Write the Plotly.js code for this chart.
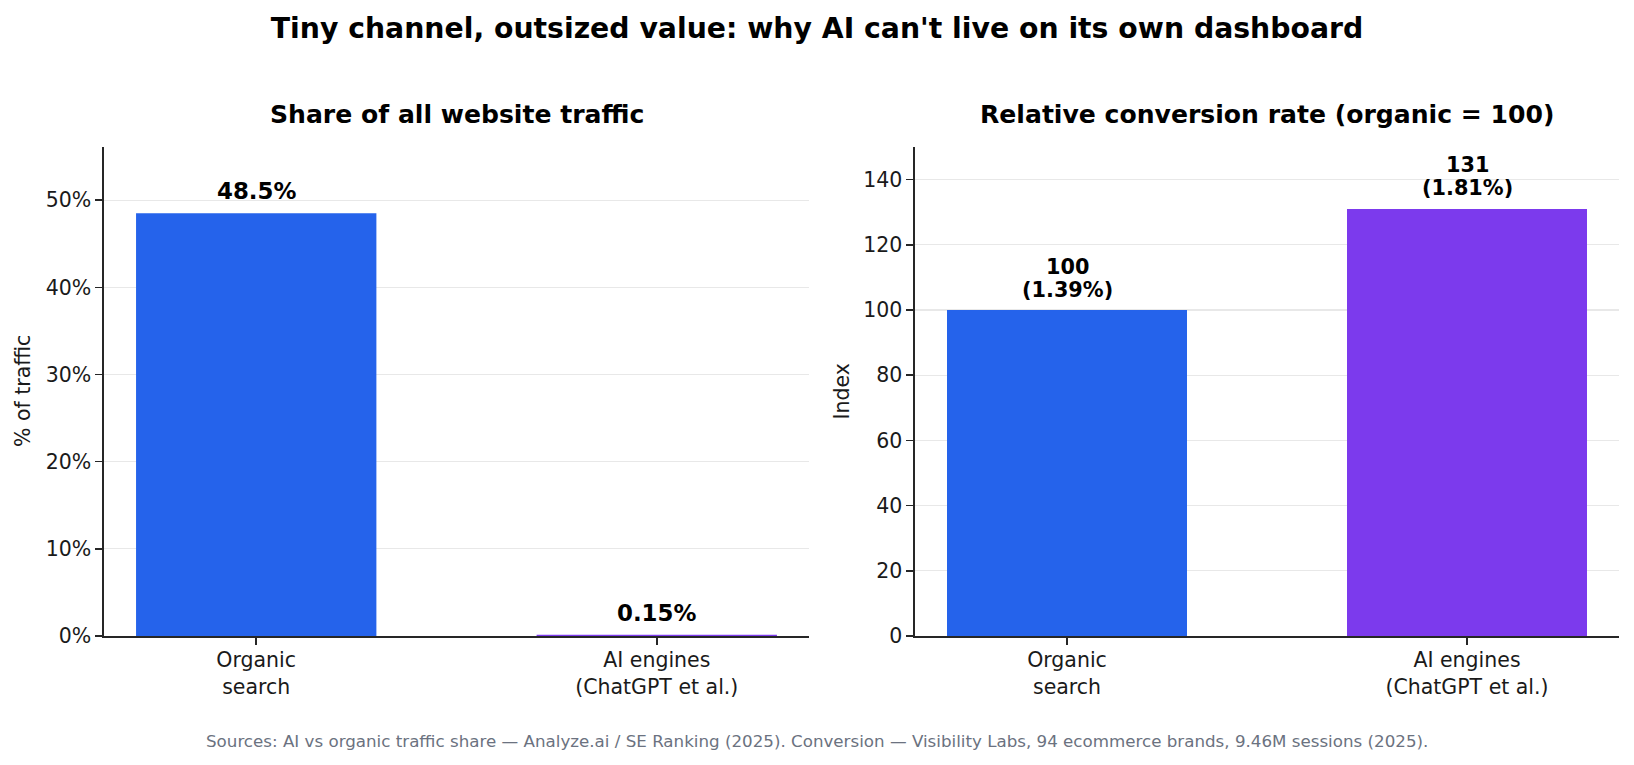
<!DOCTYPE html>
<html>
<head>
<meta charset="utf-8">
<script src="https://cdn.plot.ly/plotly-3.0.1.min.js"></script>
<style>html,body{margin:0;padding:0;background:#fff;}#chart{width:1634px;height:765px;}</style>
</head>
<body>
<div id="chart"></div>
<script>
// ---- data ----
const categories = ["Organic<br>search", "AI engines<br>(ChatGPT et al.)"];
const trafficShare = [48.5, 0.15];               // % of all website traffic
const trafficLabels = ["48.5%", "0.15%"];
const conversionIndex = [100, 131];              // organic = 100
const conversionRates = [1.39, 1.81];            // actual conversion rate, %
const barColors = ["#2563eb", "#7c3aed"];
const mainTitle = "Tiny channel, outsized value: why AI can't live on its own dashboard";
const leftTitle = "Share of all website traffic";
const rightTitle = "Relative conversion rate (organic = 100)";
const leftYLabel = "% of traffic";
const rightYLabel = "Index";
const footer = "Sources: AI vs organic traffic share — Analyze.ai / SE Ranking (2025). Conversion — Visibility Labs, 94 ecommerce brands, 9.46M sessions (2025).";

// ---- layout ----
const W = 1634, H = 765;
const FONT = "DejaVu Sans, Liberation Sans, sans-serif";
const px = v => v / W, py = v => 1 - v / H;

const traces = [
  {type: "bar", x: categories, y: trafficShare, marker: {color: barColors}, width: 0.6,
   xaxis: "x", yaxis: "y", hoverinfo: "skip"},
  {type: "bar", x: categories, y: conversionIndex, marker: {color: barColors}, width: 0.6,
   xaxis: "x2", yaxis: "y2", hoverinfo: "skip"}
];

const axisCommon = {
  showline: true, linecolor: "#262626", linewidth: 1.6,
  ticks: "outside", ticklen: 7, tickwidth: 1.6, tickcolor: "#262626",
  tickfont: {family: FONT, size: 20.5, color: "#1a1a1a"},
  zeroline: false, fixedrange: true
};

const annotations = [];
categories.forEach((c, i) => {
  annotations.push({xref: "x", yref: "y", x: c, y: trafficShare[i], text: "<b>" + trafficLabels[i] + "</b>",
    showarrow: false, yanchor: "middle", yshift: 22, font: {family: FONT, size: 22.9, color: "#000"}});
  annotations.push({xref: "x2", yref: "y2", x: c, y: conversionIndex[i], text: "<b>" + conversionIndex[i] + "</b>",
    showarrow: false, yanchor: "middle", yshift: 43.5, font: {family: FONT, size: 20.8, color: "#000"}});
  annotations.push({xref: "x2", yref: "y2", x: c, y: conversionIndex[i], text: "<b>(" + conversionRates[i].toFixed(2) + "%)</b>",
    showarrow: false, yanchor: "middle", yshift: 20.5, font: {family: FONT, size: 20.8, color: "#000"}});
});
annotations.push(
  {xref: "paper", yref: "paper", x: px(456.5), y: py(114.5), text: "<b>" + leftTitle + "</b>", showarrow: false,
   xanchor: "center", yanchor: "middle", font: {family: FONT, size: 25.1, color: "#000"}},
  {xref: "paper", yref: "paper", x: px(1267), y: py(114.5), text: "<b>" + rightTitle + "</b>", showarrow: false,
   xanchor: "center", yanchor: "middle", font: {family: FONT, size: 25.1, color: "#000"}},
  {xref: "paper", yref: "paper", x: px(23.5), y: py(391.5), text: leftYLabel, textangle: -90, showarrow: false,
   xanchor: "center", yanchor: "middle", font: {family: FONT, size: 20.5, color: "#1a1a1a"}},
  {xref: "paper", yref: "paper", x: px(842), y: py(391.5), text: rightYLabel, textangle: -90, showarrow: false,
   xanchor: "center", yanchor: "middle", font: {family: FONT, size: 20.5, color: "#1a1a1a"}},
  {xref: "paper", yref: "paper", x: 0.5, y: py(740.5), text: footer, showarrow: false,
   xanchor: "center", yanchor: "middle", font: {family: FONT, size: 16.7, color: "#6b7280"}}
);

const layout = {
  width: W, height: H,
  margin: {l: 0, r: 0, t: 0, b: 0},
  paper_bgcolor: "#fff", plot_bgcolor: "#fff",
  showlegend: false,
  title: {text: "<b>" + mainTitle + "</b>", x: 0.5, xanchor: "center", y: py(28.5), yanchor: "middle",
          font: {family: FONT, size: 28.3, color: "#000"}},
  xaxis: Object.assign({}, axisCommon, {domain: [px(104), px(809)], range: [-0.38, 1.38], anchor: "y", showgrid: false,
          ticklabelstandoff: -2}),
  yaxis: Object.assign({}, axisCommon, {domain: [py(636), py(147)], range: [0, 56.1], dtick: 10, ticksuffix: "%",
          anchor: "x", showgrid: true, gridcolor: "#e8e8e8", gridwidth: 1.3}),
  xaxis2: Object.assign({}, axisCommon, {domain: [px(915), px(1619)], range: [-0.38, 1.38], anchor: "y2", showgrid: false,
          ticklabelstandoff: -2}),
  yaxis2: Object.assign({}, axisCommon, {domain: [py(636), py(147)], range: [0, 150], dtick: 20,
          anchor: "x2", showgrid: true, gridcolor: "#e8e8e8", gridwidth: 1.3}),
  annotations: annotations
};

Plotly.newPlot("chart", traces, layout, {staticPlot: true, displayModeBar: false});
</script>
</body>
</html>
